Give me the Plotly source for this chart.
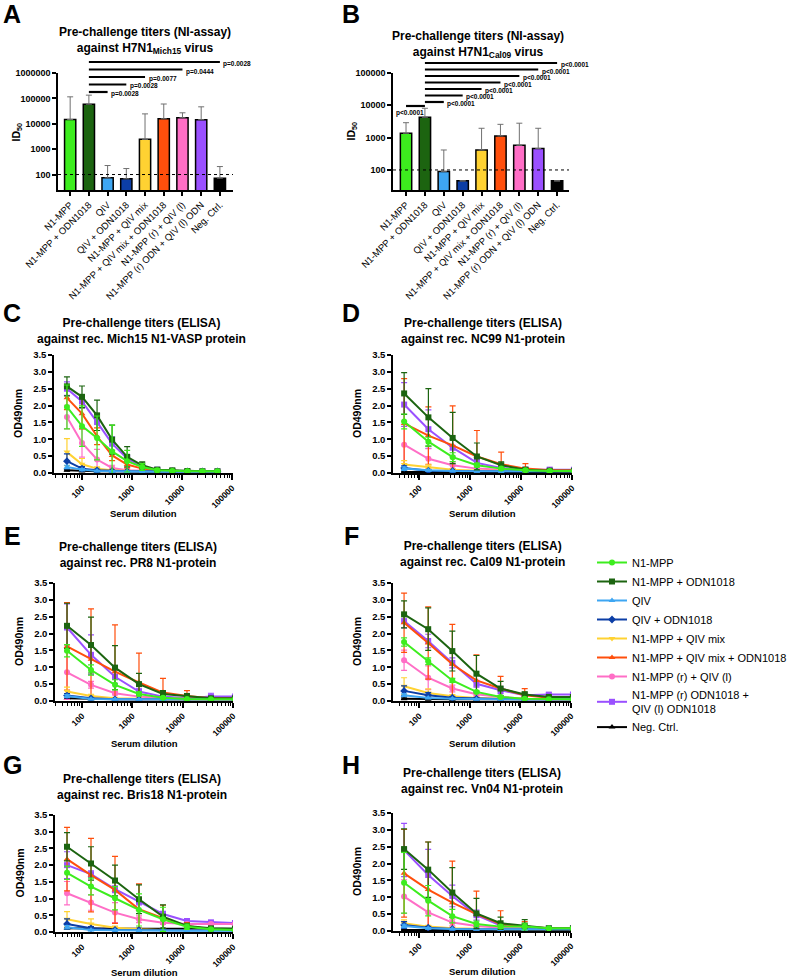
import plotly.graph_objects as go

W, H = 789, 978
FONT = "Liberation Sans, Arial, Helvetica, sans-serif"

GROUPS = ["N1-MPP", "N1-MPP + ODN1018", "QIV", "QIV + ODN1018", "N1-MPP + QIV mix",
          "N1-MPP + QIV mix + ODN1018", "N1-MPP (r) + QIV (l)",
          "N1-MPP (r) ODN + QIV (l) ODN", "Neg. Ctrl."]
SERIES = ["N1-MPP", "N1-MPP + ODN1018", "QIV", "QIV + ODN1018", "N1-MPP + QIV mix",
          "N1-MPP + QIV mix + ODN1018", "N1-MPP (r) + QIV (l)",
          "N1-MPP (r) ODN1018 +<br>QIV (l) ODN1018", "Neg. Ctrl."]
COLORS = ["#3ded1e", "#1c6410", "#3ea6f2", "#0c3ea6", "#ffd232",
          "#ff4f0c", "#ff6ec6", "#9a50ff", "#000000"]
SYMBOLS = ["circle", "square", "triangle-up", "diamond", "triangle-down",
           "triangle-up", "circle", "square", "triangle-up"]

# NI assay, ID50 (bar = mean, top = mean + SD)
A_MEAN = [14700, 59000, 74, 68, 2440, 15800, 17300, 14500, 72]
A_TOP = [115000, 134000, 226, 172, 24500, 60000, 27000, 46500, 206]
B_MEAN = [1370, 4280, 89, 46, 415, 1130, 580, 458, 46]
B_TOP = [2900, 8100, 415, 46, 1950, 2580, 2800, 1950, 46]
LOD = 100

# comparisons against N1-MPP + ODN1018 (index 1), lowest bracket first
A_SIG_VS = [2, 3, 4, 6, 8]
A_SIG_P = ["p=0.0028", "p=0.0028", "p=0.0077", "p=0.0444", "p=0.0028"]
B_SIG_VS = [2, 3, 4, 5, 6, 7, 8]
B_SIG_P = ["p<0.0001"] * 7
B_SIG_MPP = "p<0.0001"

# ELISA dilutions
DIL_2 = [50, 100, 200, 400, 800, 1600, 3200, 6400, 12800, 25600, 51200]
DIL_3 = [50, 150, 450, 1350, 4050, 12150, 36450, 109350]

C_OD = [
    [1.96, 1.39, 1.04, 0.64, 0.35, 0.18, 0.08, 0.06, 0.05, 0.05, 0.05],
    [2.57, 2.26, 1.71, 0.99, 0.48, 0.23, 0.10, 0.08, 0.06, 0.05, 0.05],
    [0.18, 0.10, 0.06, 0.05, 0.04, 0.04, 0.04, 0.04, 0.04, 0.04, 0.04],
    [0.35, 0.13, 0.08, 0.06, 0.05, 0.05, 0.05, 0.05, 0.05, 0.05, 0.05],
    [0.62, 0.26, 0.13, 0.08, 0.06, 0.05, 0.05, 0.05, 0.05, 0.05, 0.05],
    [2.23, 1.76, 1.09, 0.52, 0.25, 0.13, 0.08, 0.06, 0.05, 0.05, 0.05],
    [1.66, 0.89, 0.40, 0.15, 0.08, 0.06, 0.05, 0.05, 0.05, 0.05, 0.05],
    [2.50, 2.12, 1.51, 0.87, 0.43, 0.18, 0.10, 0.06, 0.05, 0.05, 0.05],
    [0.08, 0.06, 0.05, 0.05, 0.04, 0.04, 0.04, 0.04, 0.04, 0.04, 0.04],
]
C_SD = [
    [0.65, 0.60, 0.65, 0.78, 0.32, 0.10, 0.04, 0.02, 0.02, 0.02, 0.02],
    [0.28, 0.32, 0.45, 0.43, 0.30, 0.10, 0.05, 0.04, 0.02, 0.02, 0.02],
    [0.05, 0.03, 0.02, 0.02, 0.01, 0.01, 0.01, 0.01, 0.01, 0.01, 0.01],
    [0.22, 0.06, 0.03, 0.02, 0.01, 0.01, 0.01, 0.01, 0.01, 0.01, 0.01],
    [0.40, 0.17, 0.05, 0.03, 0.02, 0.01, 0.01, 0.01, 0.01, 0.01, 0.01],
    [0.35, 0.45, 0.25, 0.15, 0.10, 0.05, 0.02, 0.02, 0.01, 0.01, 0.01],
    [0.35, 0.42, 0.30, 0.08, 0.03, 0.02, 0.01, 0.01, 0.01, 0.01, 0.01],
    [0.20, 0.20, 0.25, 0.20, 0.10, 0.05, 0.02, 0.02, 0.01, 0.01, 0.01],
    [0.02, 0.01, 0.01, 0.01, 0.01, 0.01, 0.01, 0.01, 0.01, 0.01, 0.01],
]
D_OD = [
    [1.53, 0.93, 0.47, 0.23, 0.13, 0.08, 0.06, 0.06],
    [2.36, 1.65, 1.04, 0.49, 0.23, 0.10, 0.07, 0.07],
    [0.13, 0.08, 0.06, 0.05, 0.05, 0.05, 0.05, 0.05],
    [0.15, 0.07, 0.06, 0.05, 0.05, 0.05, 0.05, 0.05],
    [0.25, 0.18, 0.10, 0.07, 0.06, 0.05, 0.05, 0.05],
    [1.47, 1.11, 0.82, 0.49, 0.26, 0.13, 0.08, 0.08],
    [0.84, 0.42, 0.23, 0.13, 0.10, 0.08, 0.06, 0.06],
    [2.03, 1.30, 0.75, 0.30, 0.15, 0.10, 0.10, 0.10],
    [0.03, 0.03, 0.03, 0.03, 0.03, 0.03, 0.03, 0.03],
]
D_SD = [
    [0.22, 0.13, 0.13, 0.06, 0.04, 0.03, 0.02, 0.02],
    [0.62, 0.85, 0.76, 0.40, 0.10, 0.05, 0.03, 0.03],
    [0.05, 0.02, 0.01, 0.01, 0.01, 0.01, 0.01, 0.01],
    [0.06, 0.02, 0.01, 0.01, 0.01, 0.01, 0.01, 0.01],
    [0.12, 0.06, 0.03, 0.02, 0.01, 0.01, 0.01, 0.01],
    [1.33, 0.85, 1.17, 0.77, 0.36, 0.15, 0.04, 0.04],
    [0.70, 0.30, 0.10, 0.05, 0.03, 0.02, 0.01, 0.01],
    [0.65, 0.57, 0.25, 0.10, 0.05, 0.03, 0.03, 0.03],
    [0.01, 0.01, 0.01, 0.01, 0.01, 0.01, 0.01, 0.01],
]
E_OD = [
    [1.49, 0.92, 0.48, 0.21, 0.10, 0.06, 0.05, 0.05],
    [2.23, 1.66, 0.99, 0.50, 0.21, 0.15, 0.08, 0.08],
    [0.15, 0.06, 0.05, 0.05, 0.05, 0.05, 0.05, 0.05],
    [0.16, 0.08, 0.05, 0.05, 0.05, 0.05, 0.05, 0.05],
    [0.28, 0.15, 0.08, 0.06, 0.05, 0.05, 0.05, 0.05],
    [1.62, 1.24, 0.87, 0.55, 0.25, 0.15, 0.08, 0.08],
    [0.85, 0.48, 0.23, 0.13, 0.08, 0.06, 0.05, 0.05],
    [2.18, 1.37, 0.72, 0.28, 0.13, 0.08, 0.13, 0.13],
    [0.08, 0.06, 0.05, 0.05, 0.05, 0.05, 0.05, 0.05],
]
E_SD = [
    [0.18, 0.15, 0.15, 0.06, 0.03, 0.02, 0.02, 0.02],
    [0.67, 0.83, 0.65, 0.32, 0.10, 0.05, 0.03, 0.03],
    [0.04, 0.02, 0.01, 0.01, 0.01, 0.01, 0.01, 0.01],
    [0.06, 0.02, 0.01, 0.01, 0.01, 0.01, 0.01, 0.01],
    [0.13, 0.05, 0.02, 0.01, 0.01, 0.01, 0.01, 0.01],
    [1.30, 1.49, 1.39, 0.87, 0.42, 0.16, 0.04, 0.04],
    [0.80, 0.10, 0.05, 0.03, 0.02, 0.01, 0.01, 0.01],
    [0.70, 0.59, 0.20, 0.08, 0.04, 0.03, 0.10, 0.05],
    [0.02, 0.01, 0.01, 0.01, 0.01, 0.01, 0.01, 0.01],
]
F_OD = [
    [1.75, 1.18, 0.61, 0.27, 0.12, 0.07, 0.05, 0.05],
    [2.57, 2.13, 1.48, 0.81, 0.37, 0.19, 0.12, 0.12],
    [0.17, 0.09, 0.07, 0.05, 0.05, 0.05, 0.05, 0.05],
    [0.30, 0.17, 0.10, 0.07, 0.06, 0.05, 0.05, 0.05],
    [0.44, 0.24, 0.14, 0.09, 0.07, 0.06, 0.05, 0.05],
    [2.32, 1.72, 1.09, 0.61, 0.37, 0.17, 0.10, 0.10],
    [1.21, 0.69, 0.37, 0.20, 0.12, 0.07, 0.05, 0.05],
    [2.37, 1.78, 1.13, 0.51, 0.32, 0.17, 0.19, 0.19],
    [0.07, 0.05, 0.05, 0.05, 0.05, 0.05, 0.05, 0.05],
]
F_SD = [
    [0.12, 0.10, 0.06, 0.04, 0.03, 0.02, 0.02, 0.02],
    [0.40, 0.63, 0.59, 0.54, 0.21, 0.08, 0.04, 0.04],
    [0.04, 0.02, 0.01, 0.01, 0.01, 0.01, 0.01, 0.01],
    [0.15, 0.08, 0.03, 0.02, 0.01, 0.01, 0.01, 0.01],
    [0.25, 0.12, 0.05, 0.02, 0.01, 0.01, 0.01, 0.01],
    [0.88, 1.07, 1.18, 0.76, 0.36, 0.20, 0.05, 0.05],
    [0.30, 0.35, 0.10, 0.05, 0.03, 0.02, 0.01, 0.01],
    [0.20, 0.20, 0.15, 0.10, 0.10, 0.05, 0.05, 0.05],
    [0.02, 0.01, 0.01, 0.01, 0.01, 0.01, 0.01, 0.01],
]
G_OD = [
    [1.77, 1.36, 1.01, 0.66, 0.38, 0.16, 0.08, 0.06],
    [2.55, 2.05, 1.54, 0.98, 0.46, 0.18, 0.11, 0.10],
    [0.14, 0.06, 0.05, 0.04, 0.04, 0.04, 0.04, 0.04],
    [0.24, 0.11, 0.06, 0.05, 0.05, 0.05, 0.05, 0.05],
    [0.38, 0.24, 0.13, 0.08, 0.06, 0.06, 0.06, 0.06],
    [2.18, 1.70, 1.26, 0.68, 0.41, 0.18, 0.08, 0.08],
    [1.16, 0.88, 0.58, 0.38, 0.28, 0.24, 0.24, 0.24],
    [2.00, 1.73, 1.28, 0.91, 0.54, 0.33, 0.29, 0.27],
    [0.11, 0.10, 0.10, 0.10, 0.10, 0.10, 0.10, 0.10],
]
G_SD = [
    [0.20, 0.25, 0.35, 0.48, 0.36, 0.08, 0.03, 0.02],
    [0.42, 0.50, 0.46, 0.43, 0.35, 0.08, 0.04, 0.03],
    [0.05, 0.02, 0.01, 0.01, 0.01, 0.01, 0.01, 0.01],
    [0.15, 0.05, 0.02, 0.01, 0.01, 0.01, 0.01, 0.01],
    [0.23, 0.15, 0.05, 0.02, 0.01, 0.01, 0.01, 0.01],
    [0.95, 1.10, 1.00, 0.76, 0.39, 0.10, 0.03, 0.03],
    [0.35, 0.23, 0.30, 0.10, 0.05, 0.03, 0.03, 0.03],
    [0.40, 0.10, 0.10, 0.10, 0.08, 0.04, 0.03, 0.03],
    [0.02, 0.01, 0.01, 0.01, 0.01, 0.01, 0.01, 0.01],
]
H_OD = [
    [1.43, 0.90, 0.44, 0.21, 0.13, 0.13, 0.08, 0.08],
    [2.43, 1.82, 1.14, 0.52, 0.23, 0.16, 0.08, 0.08],
    [0.15, 0.08, 0.06, 0.05, 0.05, 0.05, 0.05, 0.05],
    [0.18, 0.10, 0.06, 0.05, 0.05, 0.05, 0.05, 0.05],
    [0.23, 0.13, 0.08, 0.06, 0.05, 0.05, 0.05, 0.05],
    [1.71, 1.23, 0.84, 0.50, 0.21, 0.13, 0.08, 0.08],
    [1.02, 0.55, 0.25, 0.15, 0.10, 0.08, 0.06, 0.06],
    [2.40, 1.66, 1.04, 0.47, 0.16, 0.10, 0.08, 0.08],
    [0.03, 0.03, 0.03, 0.03, 0.03, 0.03, 0.03, 0.03],
]
H_SD = [
    [0.90, 0.45, 0.20, 0.08, 0.05, 0.10, 0.03, 0.03],
    [0.60, 0.82, 0.74, 0.45, 0.18, 0.18, 0.03, 0.03],
    [0.05, 0.02, 0.01, 0.01, 0.01, 0.01, 0.01, 0.01],
    [0.10, 0.03, 0.01, 0.01, 0.01, 0.01, 0.01, 0.01],
    [0.10, 0.04, 0.02, 0.01, 0.01, 0.01, 0.01, 0.01],
    [1.30, 1.41, 1.23, 0.68, 0.39, 0.15, 0.03, 0.03],
    [0.50, 0.40, 0.10, 0.05, 0.03, 0.02, 0.01, 0.01],
    [0.79, 0.76, 0.32, 0.15, 0.05, 0.03, 0.03, 0.03],
    [0.01, 0.01, 0.01, 0.01, 0.01, 0.01, 0.01, 0.01],
]

# plot areas in pixels: left, right, top, bottom
BOX = {
    "A": (58, 233, 73, 190), "B": (393, 569, 73, 190),
    "C": (54, 233, 355, 473), "D": (393, 572, 355, 473),
    "E": (55, 233, 583, 701), "F": (393, 571, 583, 701),
    "G": (55, 233, 815, 932), "H": (393, 571, 813, 931),
}
AX = {"A": "", "B": "2", "C": "3", "D": "4", "E": "5", "F": "6", "G": "7", "H": "8"}


def px(x):
    return x / W


def py(y):
    return 1 - y / H


def bold(size):
    return dict(family=FONT, size=size, color="black", weight="bold")


def note(text, x, y, font, **kw):
    d = dict(text=text, x=px(x), y=py(y), xref="paper", yref="paper", showarrow=False,
             xanchor="center", yanchor="middle", font=font)
    d.update(kw)
    return d


AXIS = dict(showline=True, linecolor="black", linewidth=1.5, ticks="outside",
            ticklen=4, tickwidth=1.5, tickcolor="black", showgrid=False,
            zeroline=False, automargin=False)

fig = go.Figure()
layout = {}
annotations = []
shapes = []

# ---------- NI assay bar panels ----------
bar_panels = [
    ("A", A_MEAN, A_TOP, [-0.65, 8.7], [1.39, 6], [100, 1000, 10000, 100000, 1000000],
     "Pre-challenge titers (NI-assay)<br>against H7N1<sub>Mich15</sub> virus", (145, 40.5)),
    ("B", B_MEAN, B_TOP, [-0.69, 8.63], [1.38, 5], [100, 1000, 10000, 100000],
     "Pre-challenge titers (NI-assay)<br>against H7N1<sub>Cal09</sub> virus", (478, 44)),
]
for key, mean, top, xr, yr, yticks, title, tpos in bar_panels:
    s = AX[key]
    b = BOX[key]
    fig.add_trace(go.Bar(
        x=GROUPS, y=mean, width=0.6,
        marker=dict(color=COLORS, line=dict(color="black", width=1.5)),
        error_y=dict(type="data", symmetric=False,
                     array=[t - m for t, m in zip(top, mean)],
                     arrayminus=[0] * len(mean),
                     color="#707070", thickness=1, width=3),
        xaxis="x" + s, yaxis="y" + s, showlegend=False,
    ))
    layout["xaxis" + s] = dict(AXIS, domain=[px(b[0]), px(b[1])], anchor="y" + s,
                               type="category", range=xr, tickangle=-45,
                               tickfont=dict(family=FONT, size=9.5, color="black"))
    layout["yaxis" + s] = dict(AXIS, domain=[py(b[3]), py(b[2])], anchor="x" + s,
                               type="log", range=yr, tickvals=yticks,
                               ticktext=[str(v) for v in yticks], tickfont=bold(9))
    shapes.append(dict(type="line", xref="x%s domain" % s if s else "x domain",
                       x0=0, x1=1, yref="y" + s, y0=LOD, y1=LOD,
                       line=dict(color="black", width=1, dash="dot")))
    annotations.append(note(title, tpos[0], tpos[1], bold(12)))
    annotations.append(note("ID<sub>50</sub>", b[0] - 42, (b[2] + b[3]) / 2, bold(10.5),
                            textangle=-90))


def cat_x(key, rng, i):
    b = BOX[key]
    return b[0] + (i - rng[0]) / (rng[1] - rng[0]) * (b[1] - b[0])


def sig_bracket(key, rng, i0, i1, y, label, side="right"):
    x0, x1 = cat_x(key, rng, i0), cat_x(key, rng, i1)
    shapes.append(dict(type="line", xref="paper", yref="paper", x0=px(x0), x1=px(x1),
                       y0=py(y), y1=py(y), line=dict(color="black", width=2.2)))
    if side == "right":
        annotations.append(note(label, x1 + 1.5, y + 2, bold(6.5), xanchor="left"))
    else:
        annotations.append(note(label, (x0 + x1) / 2 - 5, y + 6.5, bold(6.5)))


for k, (j, p) in enumerate(zip(A_SIG_VS, A_SIG_P)):
    sig_bracket("A", [-0.65, 8.7], 1, j, 92 - 7.5 * k, p)
for k, (j, p) in enumerate(zip(B_SIG_VS, B_SIG_P)):
    sig_bracket("B", [-0.69, 8.63], 1, j, 102 - 6.5 * k, p)
sig_bracket("B", [-0.69, 8.63], 0, 1, 106, B_SIG_MPP, side="below")

# ---------- ELISA panels ----------
elisa = [
    ("C", DIL_2, C_OD, C_SD, [1.44, 5.02], "Mich15 N1-VASP protein", (141, 331.5), 513),
    ("D", DIL_3, D_OD, D_SD, [1.48, 5.0], "NC99 N1-protein", (483, 330.5), 513),
    ("E", DIL_3, E_OD, E_SD, [1.46, 5.0], "PR8 N1-protein", (138, 555), 743),
    ("F", DIL_3, F_OD, F_SD, [1.48, 5.0], "Cal09 N1-protein", (482, 554), 743),
    ("G", DIL_3, G_OD, G_SD, [1.46, 5.0], "Bris18 N1-protein", (142, 787), 972),
    ("H", DIL_3, H_OD, H_SD, [1.48, 5.0], "Vn04 N1-protein", (482, 780.5), 971),
]
MINOR = [m * 10 ** e for e in range(1, 5) for m in range(2, 10)]
for key, dil, od, sd, xr, antigen, tpos, xt_y in elisa:
    s = AX[key]
    b = BOX[key]
    for i in reversed(range(len(SERIES))):
        fig.add_trace(go.Scatter(
            x=dil, y=od[i], mode="lines+markers", name=SERIES[i],
            legendgroup=SERIES[i], showlegend=(key == "C"),
            line=dict(color=COLORS[i], width=2),
            marker=dict(color=COLORS[i], symbol=SYMBOLS[i], size=6),
            error_y=dict(type="data", array=sd[i], color=COLORS[i], thickness=1.2, width=3),
            xaxis="x" + s, yaxis="y" + s,
        ))
    layout["xaxis" + s] = dict(AXIS, domain=[px(b[0]), px(b[1])], anchor="y" + s,
                               type="log", range=xr, tickvals=[100, 1000, 10000, 100000],
                               ticktext=["100", "1000", "10000", "100000"], tickangle=-45,
                               ticklen=5, tickfont=bold(8.5),
                               minor=dict(tickvals=MINOR, ticks="outside", ticklen=3,
                                          tickwidth=1, tickcolor="black"))
    layout["yaxis" + s] = dict(AXIS, domain=[py(b[3]), py(b[2])], anchor="x" + s,
                               range=[0, 3.5], dtick=0.5, tickformat=".1f",
                               tickfont=bold(9.5))
    annotations.append(note("Pre-challenge titers (ELISA)<br>against rec. " + antigen,
                            tpos[0], tpos[1], bold(12)))
    annotations.append(note("OD490nm", b[0] - 36, (b[2] + b[3]) / 2, bold(10.5),
                            textangle=-90))
    annotations.append(note("Serum dilution", (b[0] + b[1]) / 2, xt_y, bold(9.5)))

# panel letters
LETTERS = {"A": (12, 14), "B": (351, 14), "C": (12, 313), "D": (351, 313),
           "E": (12, 536), "F": (351, 536), "G": (12, 765), "H": (351, 765)}
for letter, (lx, ly) in LETTERS.items():
    annotations.append(note(letter, lx, ly, bold(25)))

fig.update_layout(
    width=W, height=H,
    margin=dict(l=0, r=0, t=0, b=0, autoexpand=False),
    paper_bgcolor="white", plot_bgcolor="white",
    font=dict(family=FONT, color="black"),
    bargap=0.4,
    showlegend=True,
    legend=dict(x=px(592), y=py(548), xanchor="left", yanchor="top",
                traceorder="reversed", font=dict(family=FONT, size=11, color="black"),
                bgcolor="rgba(0,0,0,0)"),
    annotations=annotations,
    shapes=shapes,
    **layout,
)

fig.write_html("out.html", config={"displayModeBar": False},
               post_script="document.body.style.margin = '0px';")
